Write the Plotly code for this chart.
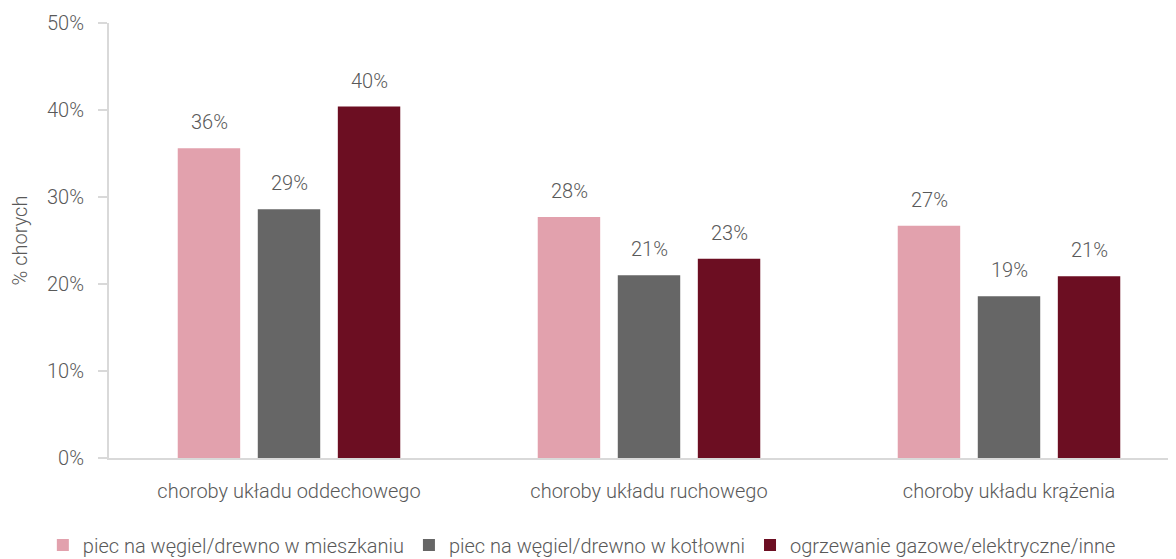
import plotly.graph_objects as go

categories = ["choroby układu oddechowego", "choroby układu ruchowego", "choroby układu krążenia"]
series_names = ["piec na węgiel/drewno w mieszkaniu", "piec na węgiel/drewno w kotłowni", "ogrzewanie gazowe/elektryczne/inne"]
mieszkanie = [0.356, 0.277, 0.267]
kotlownia = [0.286, 0.210, 0.186]
gazowe = [0.404, 0.229, 0.209]
colors = ["#E2A1AD", "#666666", "#6C0E22"]
y_ticks = [0, 0.1, 0.2, 0.3, 0.4, 0.5]

FONT = "Roboto, sans-serif"
TXT = "#595959"
FS = 20

fig = go.Figure()
series = [mieszkanie, kotlownia, gazowe]
for name, vals, col in zip(series_names, series, colors):
    fig.add_trace(go.Bar(
        x=categories, y=vals, name=name, marker=dict(color=col, line=dict(width=0)),
    ))

offsets = [-80, 0, 80]
for vals, off in zip(series, offsets):
    for cat, v in zip(categories, vals):
        fig.add_annotation(x=cat, y=v, text=f"{round(v * 100)}%", showarrow=False,
                           xshift=off, yshift=12, yanchor="bottom",
                           font=dict(size=FS, color=TXT, family=FONT, weight=300))

fig.update_layout(
    width=1168, height=551,
    margin=dict(l=101, r=0, t=15, b=101, autoexpand=False),
    paper_bgcolor="white", plot_bgcolor="white",
    barmode="group", bargap=0.333, bargroupgap=0.22,
    font=dict(family=FONT, size=FS, color=TXT, weight=300),
    showlegend=True,
    legend=dict(orientation="h", x=-0.062, xanchor="left", y=-0.2, yanchor="middle",
                font=dict(size=FS, color=TXT, family=FONT, weight=300),
                itemwidth=30, tracegroupgap=0),
    xaxis=dict(range=[-0.5, -0.5 + 1067 / 360], showline=True, linecolor="#D9D9D9", linewidth=2,
               ticks="", tickfont=dict(size=FS, color=TXT), fixedrange=True, automargin=False,
               ticklabelstandoff=14),
    yaxis=dict(range=[0, 0.5], tickvals=y_ticks, tickformat=".0%", showgrid=False, zeroline=False,
               showline=True, linecolor="#D9D9D9", linewidth=2, ticks="outside", ticklen=9,
               tickcolor="#D9D9D9", tickwidth=2, tickfont=dict(size=FS, color=TXT), automargin=False,
               ticklabelstandoff=10,
               title=dict(text="% chorych", font=dict(size=FS, color=TXT), standoff=22)),
)

fig.write_html("out.html")
